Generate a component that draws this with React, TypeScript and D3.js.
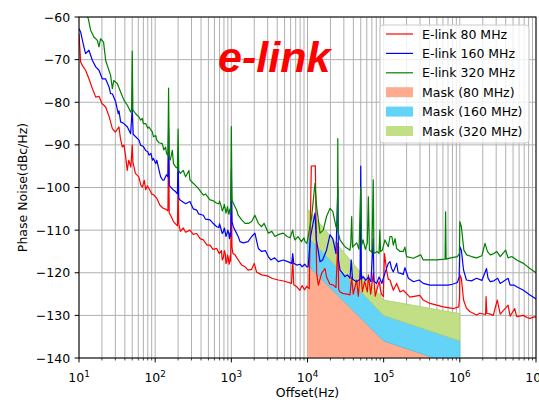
import React, { useEffect, useRef } from "react";
import * as d3 from "d3";

const W = 539;
const H = 400;
const margin = { top: 17, right: 3, bottom: 42, left: 79 };

const yTicks = [-140, -130, -120, -110, -100, -90, -80, -70, -60];
const xDecades = [1e1, 1e2, 1e3, 1e4, 1e5, 1e6, 1e7];
const xExponents = ["1", "2", "3", "4", "5", "6", "7"];

// offset (Hz), phase noise (dBc/Hz)
const elink80: [number, number][] = [
  [10, -64], [10.5, -70.5], [11, -71.3], [12.2, -72.5], [13.5, -74.5], [15, -76.8], [16.6, -78.8], [18.3, -78.6],
  [20, -80.3], [22.4, -81.1], [25, -83.5], [27.4, -86.2], [30, -87], [33.5, -85.8], [35, -88.5], [37, -90.5],
  [39, -90], [41, -92.8], [43, -96], [45, -93.6], [48, -95.2], [50, -90], [51, -94], [55, -96.7], [61, -97.5],
  [65, -99.5], [68, -99.9], [72, -98.3], [75, -100.5], [79, -99.6], [85, -100.6], [90, -101.5], [95, -101.7],
  [105, -102.5], [115, -104.1], [126, -104.8], [141, -105.2], [147, -105.5], [150, -87.5], [153, -106],
  [158, -106.4], [174, -108], [186, -108.6], [196, -109], [200, -99.5], [204, -108.5], [214, -110.3],
  [234, -109.5], [251, -110.5], [286, -110], [316, -111], [351, -110.8], [389, -112], [429, -112.3],
  [479, -113.5], [525, -113.5], [575, -114.5], [643, -114.3], [692, -115.5], [741, -114.8], [760, -117],
  [785, -116.5], [810, -114.8], [832, -115.5], [850, -117.8], [871, -117.5], [890, -115.8], [912, -116.5],
  [935, -118], [955, -117.5], [965, -116], [980, -117.2], [1000, -100], [1020, -114],
  [1050, -115.5], [1117, -115.8], [1230, -117], [1368, -118.2], [1514, -118.6], [1660, -119.4], [1850, -119.2],
  [2000, -117.8], [2140, -119.8], [2510, -120.5], [3050, -120.8], [3390, -121.3], [4140, -121.7], [5010, -122],
  [6170, -122.5], [6400, -116.6], [6600, -122.8], [7240, -123.3], [7940, -124.1], [8510, -123], [9120, -124],
  [9770, -123.2], [10540, -123.7], [11220, -95], [12680, -94.9], [13180, -120.1], [13900, -122.9],
  [15350, -120.1], [16980, -119], [17780, -121], [19720, -122.7], [21880, -122.9], [23660, -123.5],
  [25000, -113], [25700, -124], [26730, -124.5], [29510, -124.9], [33110, -125], [36140, -125.2],
  [38020, -121], [39810, -125], [44260, -121.7], [46450, -125.5], [49890, -119], [52480, -124.5],
  [56230, -122], [61090, -124.5], [63100, -120.5], [67600, -125], [73110, -120], [77620, -125.5],
  [87100, -122], [93330, -125], [98860, -125.6], [102300, -115.5], [109600, -119.5], [114800, -121.5],
  [121100, -121.7], [134000, -124.1], [148000, -122.5], [164000, -124.5], [181000, -124.1], [200000, -124.9],
  [221000, -125.7], [299000, -125.3], [331000, -126.4], [405000, -127.2], [497000, -127.6], [607000, -128],
  [832000, -128.4], [966000, -128], [990000, -126], [1000000, -120.5], [1047000, -121.3], [1120000, -126.4],
  [1220000, -128.3], [1350000, -129.1], [1660000, -129.9], [1820000, -129.5], [2180000, -129.8],
  [2210000, -125.6], [2260000, -129.5], [2510000, -129.7], [2750000, -130], [3100000, -126.4],
  [3390000, -129.7], [4300000, -127.6], [4570000, -130.2], [5250000, -128.4], [5580000, -130.3],
  [6840000, -130], [7590000, -130.5], [8320000, -130.7], [9700000, -130.3], [10000000, -130.5],
];

const elink160: [number, number][] = [
  [10, -62.7], [10.5, -63.5], [11.1, -65.5], [11.6, -67], [12.2, -68.6], [13.5, -67.8], [15, -70.2],
  [16.6, -71.7], [18.3, -72.5], [20.2, -74.5], [22.3, -74.5], [24.8, -76.4], [26, -78], [27.4, -78],
  [30.3, -79.9], [32.8, -82.7], [33.5, -82], [35.2, -84.6], [38.9, -85], [43.2, -85.8], [47.6, -87.4],
  [50, -81.5], [51.5, -87.5], [55.5, -88.1], [61.4, -88.9], [64.5, -90.1], [70, -90.4], [75, -91.3],
  [80, -91.6], [83, -92.4], [88, -92], [92, -93.6], [95, -93.2], [101.6, -94.4], [105, -93.6], [115, -96.7],
  [118, -97.5], [126, -98.3], [130, -98.3], [141, -97], [147, -97.5], [150, -86], [153, -99.5], [158, -99.8],
  [174, -100.6], [186, -101], [196, -101.5], [200, -92], [204, -102.5], [214, -103], [251, -103.8],
  [286, -103.3], [316, -105], [351, -105.3], [372, -106.2], [429, -106.5], [457, -107.4], [525, -107.6],
  [562, -108.2], [643, -109.2], [684, -109.4], [700, -108.5], [760, -110.8], [785, -110.4], [810, -109.5],
  [832, -110.5], [850, -111.5], [870, -111], [900, -110], [933, -111.1], [945, -112], [960, -110.9],
  [970, -110.5], [985, -111.5], [1000, -96], [1020, -108], [1062, -109.2], [1117, -110], [1230, -111.5],
  [1300, -112.7], [1436, -113], [1660, -112.7], [1850, -111.5], [2040, -110.7], [2260, -114.3], [2500, -115],
  [2800, -114.8], [3055, -116.2], [3300, -117], [3700, -116.5], [4140, -117.4], [4800, -117], [5500, -117.4],
  [6200, -117.8], [6400, -115.5], [6600, -117.8], [7250, -118.2], [8000, -118], [8500, -118.6], [9200, -118],
  [9800, -118.6], [10200, -118.6], [10960, -111.5], [12540, -106], [13080, -112.3], [14600, -117.4],
  [15800, -117], [17780, -114.7], [19720, -111.1], [21500, -112], [23660, -115.5], [25000, -100],
  [25500, -117], [26730, -119.4], [28800, -120.1], [31000, -120.9], [33500, -120.5], [36140, -121.3],
  [37500, -117], [39000, -121.5], [44260, -122.1], [49000, -121.5], [50000, -95], [51000, -121.5],
  [53700, -120.9], [58000, -121.8], [63000, -121], [68000, -122.1], [73000, -112], [74500, -122],
  [81000, -122.5], [87000, -121], [95000, -122.5], [98000, -121.5], [104000, -120.1], [115000, -117.8],
  [121000, -117.4], [127000, -119], [134000, -119.8], [148000, -117.8], [155000, -120], [172000, -120.2],
  [181000, -120.4], [190000, -118.8], [211000, -121.3], [246000, -122.1], [292000, -121.7], [331000, -122.5],
  [405000, -122.9], [497000, -122.9], [607000, -122.9], [700000, -122.9], [800000, -122.7], [930000, -122.3],
  [980000, -121], [1000000, -113.9], [1047000, -114.7], [1120000, -119.4], [1220000, -121.7],
  [1420000, -121.9], [1660000, -121.3], [1950000, -121.8], [2240000, -119], [2340000, -121.2],
  [2510000, -122.1], [2800000, -121.9], [3140000, -121.3], [3390000, -122.5], [4300000, -121.3],
  [4570000, -122.9], [5130000, -122.9], [5580000, -123.3], [6840000, -124.1], [8320000, -125.2],
  [9700000, -126], [10000000, -126.2],
];

const elink320: [number, number][] = [
  [10, -55], [12, -58.5], [13.3, -60.5], [14.2, -63.1], [15.7, -64.7], [17.4, -65.5], [18.3, -67],
  [19.2, -65.1], [21, -65.9], [22.4, -70.2], [26, -73.7], [27.4, -76.8], [28.6, -74.9], [31.8, -75.6],
  [35.2, -77.6], [38.9, -79.5], [43.2, -80.7], [47.6, -82.3], [49, -81.8], [50, -68], [51, -81.8],
  [55.5, -82.7], [61.4, -83.5], [64.5, -84.2], [67.7, -83.8], [70, -85], [75, -85], [80, -86.1], [83, -85.8],
  [88, -86.5], [92, -87], [95, -88.1], [101.6, -87.8], [105, -88.9], [112, -89.5], [124, -89.7], [130, -91.2],
  [137, -90.5], [141, -92], [147, -92.5], [150, -76.7], [153, -93.2], [158, -93.5], [168, -91.3], [174, -94.4],
  [186, -95.2], [196, -95.5], [200, -86.3], [204, -96], [214, -96.7], [234, -96], [251, -97.5], [278, -96],
  [286, -98.2], [316, -99], [351, -99.8], [372, -100.3], [429, -101.8], [457, -101.5], [525, -102.9],
  [562, -103], [643, -103.7], [684, -103.8], [700, -103.2], [740, -104.5], [760, -105.5], [785, -104.9],
  [810, -104], [832, -105], [850, -106], [870, -105.3], [890, -104.5], [912, -105.8], [930, -106.3],
  [950, -105.2], [965, -105], [980, -106], [1000, -85.7], [1020, -103], [1117, -104.5], [1175, -105.3],
  [1230, -106.5], [1370, -107.6], [1514, -108.4], [1700, -108.4], [1850, -108], [2040, -106.5], [2260, -108.4],
  [2500, -109.2], [2690, -108.4], [3055, -110.7], [3400, -110.3], [3740, -111.5], [4200, -111], [4790, -110.7],
  [5400, -111.5], [5900, -111.8], [6400, -110], [6600, -111.5], [6860, -112.3], [7500, -111.5], [8300, -112.7],
  [9000, -111.8], [9270, -112.7], [9800, -113.1], [10200, -111.5], [11350, -106.8], [12540, -99],
  [13180, -104.5], [14600, -110.7], [16100, -110], [17780, -106.8], [19720, -104.9], [21500, -105.6],
  [23660, -109.2], [24700, -110], [25000, -88.5], [25300, -110.5], [26730, -112.3], [28800, -113.1],
  [31000, -113.9], [36140, -114.7], [37000, -113], [38020, -106.8], [39000, -114], [44260, -113],
  [47500, -114.5], [50000, -100], [51500, -113.5], [53700, -112.3], [57500, -114.5], [61000, -113],
  [63000, -102.2], [65000, -114.7], [70000, -115.2], [73000, -98.2], [74500, -115.5], [82000, -115],
  [87000, -115.5], [89000, -110], [91000, -115], [96000, -114.7], [104000, -112.3], [115000, -113.9],
  [121000, -111.5], [128000, -111.5], [134000, -113.5], [141000, -112], [148000, -114.3], [164000, -115],
  [181000, -115], [190000, -114], [200000, -116.2], [245000, -116.6], [306000, -115.8], [331000, -117],
  [405000, -117], [497000, -117], [640000, -116.8], [650000, -105.7], [660000, -116.8], [760000, -116.5],
  [930000, -116.2], [985000, -115.5], [1000000, -108], [1047000, -109.2], [1130000, -114.7],
  [1230000, -115.8], [1420000, -116.2], [1660000, -116.5], [1950000, -116], [2140000, -113.1],
  [2300000, -115], [2510000, -115.8], [2800000, -115.5], [3050000, -115], [3390000, -116.2],
  [4000000, -114.7], [4300000, -116.5], [4800000, -116.2], [5580000, -117], [6840000, -117.8],
  [8320000, -119], [9700000, -119.8], [10000000, -120],
];

// phase noise masks
const maskOffsets = [1e4, 1e5, 1e6];
const mask80 = [-118.2, -136, -142];
const mask160 = [-111.5, -130, -136];
const mask320 = [-105, -126.4, -129.6];

const lineSeries = [
  { label: "E-link 80 MHz", color: "#ff0000", data: elink80 },
  { label: "E-link 160 MHz", color: "#0000ff", data: elink160 },
  { label: "E-link 320 MHz", color: "#008000", data: elink320 },
];

const maskSeries = [
  { label: "Mask (80 MHz)", color: "#ffab8f", edge: "#f5a088", lower: [-150, -150, -150], upper: mask80 },
  { label: "Mask (160 MHz)", color: "#63d4f8", edge: "#4cbfe6", lower: mask80, upper: mask160 },
  { label: "Mask (320 MHz)", color: "#c2df85", edge: "#a9cf6a", lower: mask160, upper: mask320 },
];

const FONT = "DejaVu Sans, sans-serif";

export default function App() {
  const ref = useRef<SVGSVGElement>(null);

  useEffect(() => {
    const svg = d3.select(ref.current);
    svg.selectAll("*").remove();

    const left = margin.left, right = W - margin.right;
    const top = margin.top, bottom = H - margin.bottom;

    const x = d3.scaleLog().domain([1e1, 1e7]).range([left, right]);
    const y = d3.scaleLinear().domain([-140, -60]).range([bottom, top]);

    svg.append("defs").append("clipPath").attr("id", "plotclip")
      .append("rect").attr("x", left).attr("y", top)
      .attr("width", right - left).attr("height", bottom - top);

    // grid
    const grid = svg.append("g").attr("stroke", "#b0b0b0").attr("stroke-width", 1);
    x.ticks().forEach((t) => {
      grid.append("line").attr("x1", x(t)).attr("x2", x(t)).attr("y1", top).attr("y2", bottom);
    });
    yTicks.forEach((t) => {
      grid.append("line").attr("x1", left).attr("x2", right).attr("y1", y(t)).attr("y2", y(t));
    });

    const plot = svg.append("g").attr("clip-path", "url(#plotclip)");

    // masks
    maskSeries.forEach((m) => {
      const pts = maskOffsets.map((f, i) => ({ f, lo: m.lower[i], hi: m.upper[i] }));
      const area = d3.area<{ f: number; lo: number; hi: number }>()
        .x((d) => x(d.f)).y0((d) => y(d.lo)).y1((d) => y(d.hi));
      plot.append("path").attr("d", area(pts)!)
        .attr("fill", m.color).attr("stroke", m.edge).attr("stroke-width", 0.8);
    });

    // traces
    const line = d3.line<[number, number]>().x((d) => x(d[0])).y((d) => y(d[1]));
    lineSeries.forEach((s) => {
      plot.append("path").attr("d", line(s.data)!)
        .attr("fill", "none").attr("stroke", s.color).attr("stroke-width", 1.2)
        .attr("stroke-linejoin", "round");
    });

    // spines
    svg.append("rect").attr("x", left).attr("y", top)
      .attr("width", right - left).attr("height", bottom - top)
      .attr("fill", "none").attr("stroke", "#000").attr("stroke-width", 1);

    // x ticks
    const ax = svg.append("g").attr("font-family", FONT).attr("fill", "#000");
    x.ticks().forEach((t) => {
      const major = xDecades.includes(t);
      ax.append("line").attr("x1", x(t)).attr("x2", x(t))
        .attr("y1", bottom).attr("y2", bottom + (major ? 4.4 : 2.5))
        .attr("stroke", "#000").attr("stroke-width", major ? 1 : 0.7);
    });
    xDecades.forEach((t, i) => {
      const txt = ax.append("text").attr("x", x(t)).attr("y", bottom + 24)
        .attr("text-anchor", "middle").attr("font-size", 12.5);
      txt.append("tspan").text("10");
      txt.append("tspan").attr("font-size", 8.8).attr("dy", -5).text(xExponents[i]);
    });
    ax.append("text").attr("x", (left + right) / 2).attr("y", 397)
      .attr("text-anchor", "middle").attr("font-size", 12.5).text("Offset(Hz)");

    // y ticks
    yTicks.forEach((t) => {
      ax.append("line").attr("x1", left - 4.4).attr("x2", left)
        .attr("y1", y(t)).attr("y2", y(t)).attr("stroke", "#000").attr("stroke-width", 1);
      ax.append("text").attr("x", left - 8.8).attr("y", y(t)).attr("dy", "0.36em")
        .attr("text-anchor", "end").attr("font-size", 12.5)
        .text(String(t).replace("-", "\u2212"));
    });
    ax.append("text")
      .attr("transform", `translate(22,${(top + bottom) / 2}) rotate(-90)`)
      .attr("text-anchor", "middle").attr("dy", "0.36em").attr("font-size", 12.5)
      .text("Phase Noise(dBc/Hz)");

    // title
    svg.append("text").attr("x", 218).attr("y", 72)
      .attr("font-family", "Liberation Sans, Arial, sans-serif")
      .attr("font-weight", "bold").attr("font-style", "italic")
      .attr("font-size", 43).attr("fill", "#ff0000").text("e-link");

    // legend
    const lg = svg.append("g").attr("font-family", FONT);
    lg.append("rect").attr("x", 380).attr("y", 25).attr("width", 149).attr("height", 118)
      .attr("rx", 3).attr("fill", "#fff").attr("fill-opacity", 0.8)
      .attr("stroke", "#cccccc").attr("stroke-width", 1);
    const rowY = (i: number) => 34 + i * 19.4;
    lineSeries.forEach((s, i) => {
      lg.append("line").attr("x1", 386).attr("x2", 413).attr("y1", rowY(i)).attr("y2", rowY(i))
        .attr("stroke", s.color).attr("stroke-width", 1.2);
      lg.append("text").attr("x", 422).attr("y", rowY(i)).attr("dy", "0.36em")
        .attr("font-size", 12.5).text(s.label);
    });
    maskSeries.forEach((m, j) => {
      const i = j + 3;
      lg.append("rect").attr("x", 386).attr("y", rowY(i) - 5).attr("width", 27).attr("height", 10)
        .attr("fill", m.color);
      lg.append("text").attr("x", 422).attr("y", rowY(i)).attr("dy", "0.36em")
        .attr("font-size", 12.5).text(m.label);
    });
  }, []);

  return (
    <svg ref={ref} width={W} height={H}
      style={{ position: "absolute", left: 0, top: 0, background: "#fff" }} />
  );
}
